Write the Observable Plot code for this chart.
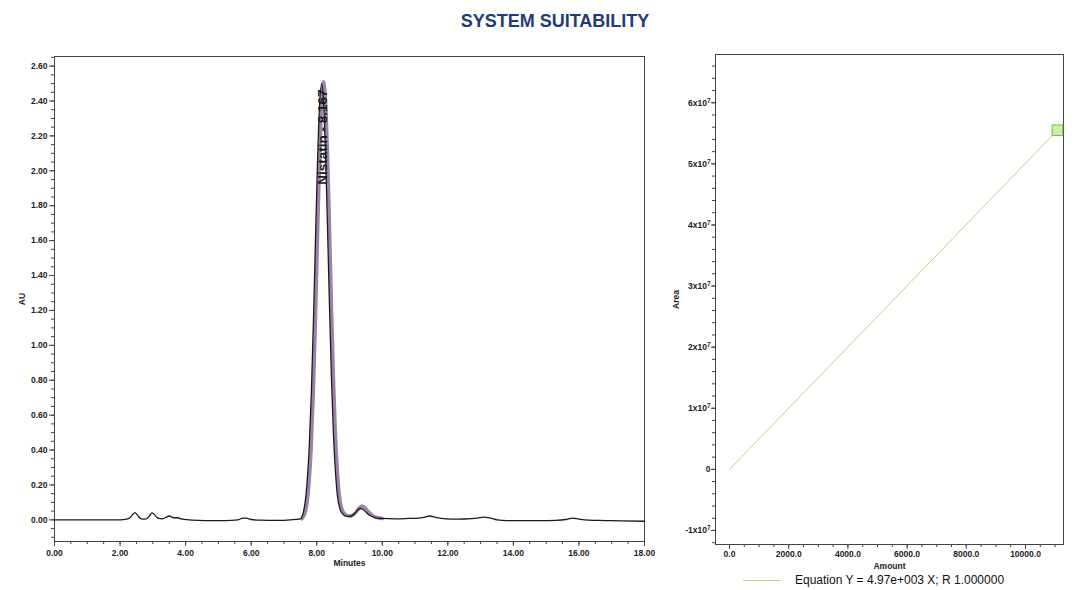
<!DOCTYPE html>
<html><head><meta charset="utf-8">
<script src="https://cdn.jsdelivr.net/npm/d3@7"></script>
<script src="https://cdn.jsdelivr.net/npm/@observablehq/plot@0.6"></script>
<style>
body{margin:0;background:#fff;overflow:hidden;}
#wrap{position:relative;width:1076px;height:590px;font-family:"Liberation Sans",Arial,sans-serif;}
#title{position:absolute;left:405px;width:300px;top:11px;text-align:center;font-weight:bold;font-size:18px;color:#1f3b7d;}
#left{position:absolute;left:0;top:40px;}
#right{position:absolute;left:640px;top:40px;}
#legline{position:absolute;left:743px;top:580px;width:37px;height:1px;background:#b9d77a;}
#legtext{position:absolute;left:795px;top:573px;font-size:12px;color:#111;white-space:nowrap;}
</style></head>
<body><div id="wrap">
<div id="title">SYSTEM SUITABILITY</div>
<div id="left"></div>
<div id="right"></div>
<div id="legline"></div>
<div id="legtext"></div>
</div>
<script>
// ---- Chromatogram (left) ----
const mainTime = [0,0.5,1.0,1.5,2.0,2.2,2.3,2.38,2.45,2.52,2.6,2.7,2.8,2.9,2.97,3.05,3.15,3.3,3.42,3.5,3.58,3.66,3.75,3.9,4.2,4.6,5.0,5.4,5.6,5.75,5.85,6.0,6.3,6.8,7.2,7.5,7.60,7.70,7.77,7.84,7.90,7.96,8.02,8.08,8.15,8.21,8.27,8.33,8.39,8.45,8.51,8.57,8.63,8.71,8.81,8.92,9.02,9.12,9.22,9.32,9.4,9.5,9.62,9.8,10.0,10.4,10.8,11.1,11.3,11.45,11.6,11.8,12.1,12.5,12.9,13.1,13.3,13.5,13.8,14.2,14.8,15.3,15.6,15.8,16.0,16.3,16.8,17.3,18.0];
const mainAU   = [0,0,0,0,0,0.004,0.012,0.030,0.042,0.030,0.012,0.004,0.006,0.022,0.040,0.030,0.010,0.006,0.016,0.022,0.016,0.012,0.012,0.004,-0.002,-0.004,-0.004,-0.003,0.000,0.010,0.010,0.002,-0.002,-0.003,0.000,0.006,0.05,0.20,0.41,0.75,1.14,1.59,2.02,2.35,2.50,2.39,2.09,1.67,1.22,0.81,0.49,0.28,0.14,0.06,0.03,0.02,0.02,0.03,0.05,0.065,0.062,0.045,0.025,0.012,0.008,0.006,0.008,0.010,0.016,0.022,0.016,0.008,0.004,0.005,0.010,0.016,0.010,0.000,-0.004,-0.004,-0.004,-0.003,0.002,0.010,0.004,-0.002,-0.004,-0.006,-0.008];
const repTime = [7.55,7.66,7.76,7.83,7.90,7.96,8.02,8.08,8.14,8.21,8.27,8.33,8.39,8.45,8.51,8.57,8.63,8.69,8.77,8.87,8.98,9.08,9.18,9.28,9.38,9.46,9.56,9.7,9.87,10.0];
const repAU   = [0.006,0.05,0.20,0.41,0.75,1.14,1.59,2.02,2.35,2.51,2.39,2.09,1.67,1.22,0.81,0.49,0.28,0.14,0.06,0.03,0.022,0.025,0.04,0.065,0.08,0.072,0.05,0.026,0.012,0.008];
const peakName = ["Nistatin - 8.167"];
const peakTime = [8.167];
const peakLabelAU = [1.92];
const auTicks = [0,0.2,0.4,0.6,0.8,1.0,1.2,1.4,1.6,1.8,2.0,2.2,2.4,2.6];
const minuteTicks = [0,2,4,6,8,10,12,14,16,18];

// ---- Calibration (right) ----
const stdAmount = [11080];
const stdArea = [5.55e7];
const fitAmount = [0, 11080];
const fitArea = [0, 5.55e7];
const amountTicks = [0,2000,4000,6000,8000,10000];
const areaTicks = [-1e7,0,1e7,2e7,3e7,4e7,5e7,6e7];
const equationText = "Equation Y = 4.97e+003 X; R 1.000000";

const font = "'Liberation Sans', Arial, sans-serif";
const ink = "#222";

const minorAU = d3.range(-2, 54).map(i => i * 0.05);
const minorMin = d3.range(0, 37).map(i => i * 0.5);

const left = Plot.plot({
  width: 660, height: 535,
  marginLeft: 54, marginRight: 16, marginTop: 16, marginBottom: 34,
  style: {fontFamily: font, fontSize: "8.5px", color: ink, fontWeight: "bold", background: "transparent"},
  x: {domain: [0, 18]},
  y: {domain: [-0.124, 2.655]},
  marks: [
    Plot.frame({stroke: "#444"}),
    Plot.axisY(minorAU, {tickSize: 3, tickFormat: () => "", stroke: "#444"}),
    Plot.axisY(auTicks, {tickSize: 5, tickPadding: 2, tickFormat: d => d.toFixed(2), stroke: "#444",
      label: "AU", labelAnchor: "center", labelOffset: 36, labelArrow: "none"}),
    Plot.axisX(minorMin, {tickSize: 3, tickFormat: () => "", stroke: "#444"}),
    Plot.axisX(minuteTicks, {tickSize: 5, tickPadding: 3, tickFormat: d => d.toFixed(2), stroke: "#444",
      label: "Minutes", labelAnchor: "center", labelOffset: 24, labelArrow: "none"}),
    Plot.line(repTime, {x: repTime, y: repAU, stroke: "#9a82ad", strokeWidth: 3.5, curve: "monotone-x"}),
    Plot.line(mainTime, {x: mainTime, y: mainAU, stroke: "#1a1a1a", strokeWidth: 1.3, curve: "monotone-x"}),
    Plot.text(peakName, {x: peakTime, y: peakLabelAU, text: peakName, rotate: -90, textAnchor: "start",
      fontSize: 13.5, fontWeight: "bold", fill: "#1a1a1a"})
  ]
});
document.getElementById("left").append(left);

const minorArea = d3.range(-6, 34).map(i => i * 2e6);
const minorAmount = d3.range(0, 23).map(i => i * 500);
const areaFmt = d => d === 0 ? "0" : `${d / 1e7}x10\u2077`;

const right = Plot.plot({
  width: 436, height: 540,
  marginLeft: 75, marginRight: 13, marginTop: 14, marginBottom: 36,
  style: {fontFamily: font, fontSize: "8.5px", color: ink, fontWeight: "bold", background: "transparent"},
  x: {domain: [-473, 11284]},
  y: {domain: [-1.23e7, 6.79e7]},
  marks: [
    Plot.frame({stroke: "#444"}),
    Plot.axisY(minorArea, {tickSize: 3, tickFormat: () => "", stroke: "#444"}),
    Plot.axisY(areaTicks, {tickSize: 4, tickPadding: 1, tickFormat: areaFmt, stroke: "#444",
      label: "Area", labelAnchor: "center", labelOffset: 43, labelArrow: "none"}),
    Plot.axisX(minorAmount, {tickSize: 3, tickFormat: () => "", stroke: "#444"}),
    Plot.axisX(amountTicks, {tickSize: 5, tickPadding: 1, tickFormat: d => d.toFixed(1), stroke: "#444",
      label: "Amount", labelAnchor: "center", labelOffset: 24, labelArrow: "none"}),
    Plot.line(fitAmount, {x: fitAmount, y: fitArea, stroke: "#b9d77a", strokeWidth: 1}),
    Plot.dot(stdAmount, {x: stdAmount, y: stdArea, symbol: "square", r: 6, fill: "#cdeea8", stroke: "#6fbf3c", strokeWidth: 1})
  ]
});
right.querySelectorAll("text").forEach(t => {
  const s = t.textContent;
  if (s.endsWith("x10\u2077")) {
    t.textContent = s.slice(0, -1);
    const ts = document.createElementNS("http://www.w3.org/2000/svg", "tspan");
    ts.setAttribute("dy", "-0.45em");
    ts.setAttribute("font-size", "6.5px");
    ts.textContent = "7";
    t.append(ts);
  }
});
document.getElementById("right").append(right);
document.getElementById("legtext").textContent = equationText;
</script>
</body></html>
